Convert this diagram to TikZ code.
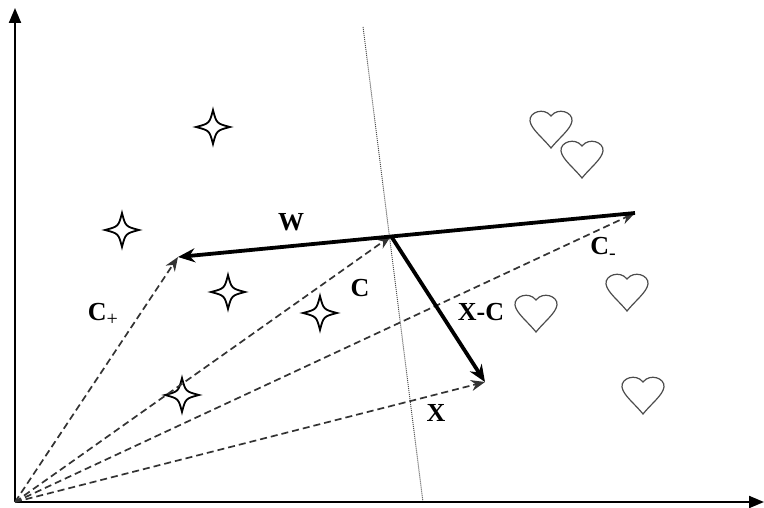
\documentclass[tikz,border=0pt]{standalone}
\usepackage{fontspec}
\setmainfont{Liberation Serif}
\usepackage{tikz}
\usetikzlibrary{arrows, arrows.meta}
\newcommand{\labelfont}{\fontsize{26}{26}\selectfont\bfseries}
\newcommand{\lowsign}[1]{\raisebox{-5pt}{\fontsize{20}{20}\selectfont\mdseries #1}}

\tikzset{
  sparkle/.pic={
    \draw[line width=1.8pt, fill=white] (0,-17) .. controls (3.5,-3.5) .. (17,0)
      .. controls (3.5,3.5) .. (0,17) .. controls (-3.5,3.5) .. (-17,0)
      .. controls (-3.5,-3.5) .. cycle;
  },
  heart/.pic={
    \draw[line width=1.2pt, draw=black!70, fill=white] (0,19) .. controls (-8,9) and (-20,0) .. (-21,-8)
      .. controls (-22,-17) and (-7,-22) .. (0,-13)
      .. controls (7,-22) and (22,-17) .. (21,-8)
      .. controls (20,0) and (8,9) .. cycle;
  },
  vec/.style={dashed, dash pattern=on 7pt off 4pt, line width=1.7pt, black!80, -{Stealth[length=14pt, width=11pt]}},
  bold/.style={line width=3.8pt, -{Stealth[length=17pt, width=14pt]}},
  lbl/.style={font=\labelfont, inner sep=0pt}
}

\begin{document}
\begin{tikzpicture}[x=1pt, y=-1pt]
  \useasboundingbox (0,0) rectangle (764,508);
  % Coordinates
  \coordinate (O) at (15, 502);
  \coordinate (Y) at (15, 8);
  \coordinate (X) at (764, 502);
  \coordinate (P) at (178, 257);
  \coordinate (M) at (635, 213);
  \coordinate (C) at (391, 236);
  \coordinate (Q) at (485, 382);
  \coordinate (T) at (363, 27);
  \coordinate (B) at (423, 502);

  % Points
  \foreach \p in {(213,127), (122,230), (228,292), (320,313), (182,395)}
    \pic at \p {sparkle};
  \foreach \p in {(551,129), (582,159), (536,313), (627,292), (643,395)}
    \pic at \p {heart};

  % Drawing
  \draw[densely dotted, black!70, line width=1pt] (T) -- (B);
  \draw[line width=2pt, -{Triangle[length=15pt, width=12pt]}] (O) -- (Y);
  \draw[line width=2pt, -{Triangle[length=15pt, width=12pt]}] (O) -- (X);
  \draw[vec] (O) -- (P);
  \draw[vec] (O) -- (C);
  \draw[vec] (O) -- (M);
  \draw[vec] (O) -- (Q);
  \draw[bold] (M) -- (P);
  \draw[bold] (C) -- (Q);

  % Labels
  \node[lbl] (w) at (291, 222) {W};
  \node[lbl] (c) at (360, 288) {C};
  \node[lbl] (cp) at (103, 314) {C\lowsign{+}};
  \node[lbl] (cm) at (603, 248) {C\lowsign{-}};
  \node[lbl] (xc) at (481, 312) {X-C};
  \node[lbl] (x) at (436, 413) {X};
\end{tikzpicture}
\end{document}
